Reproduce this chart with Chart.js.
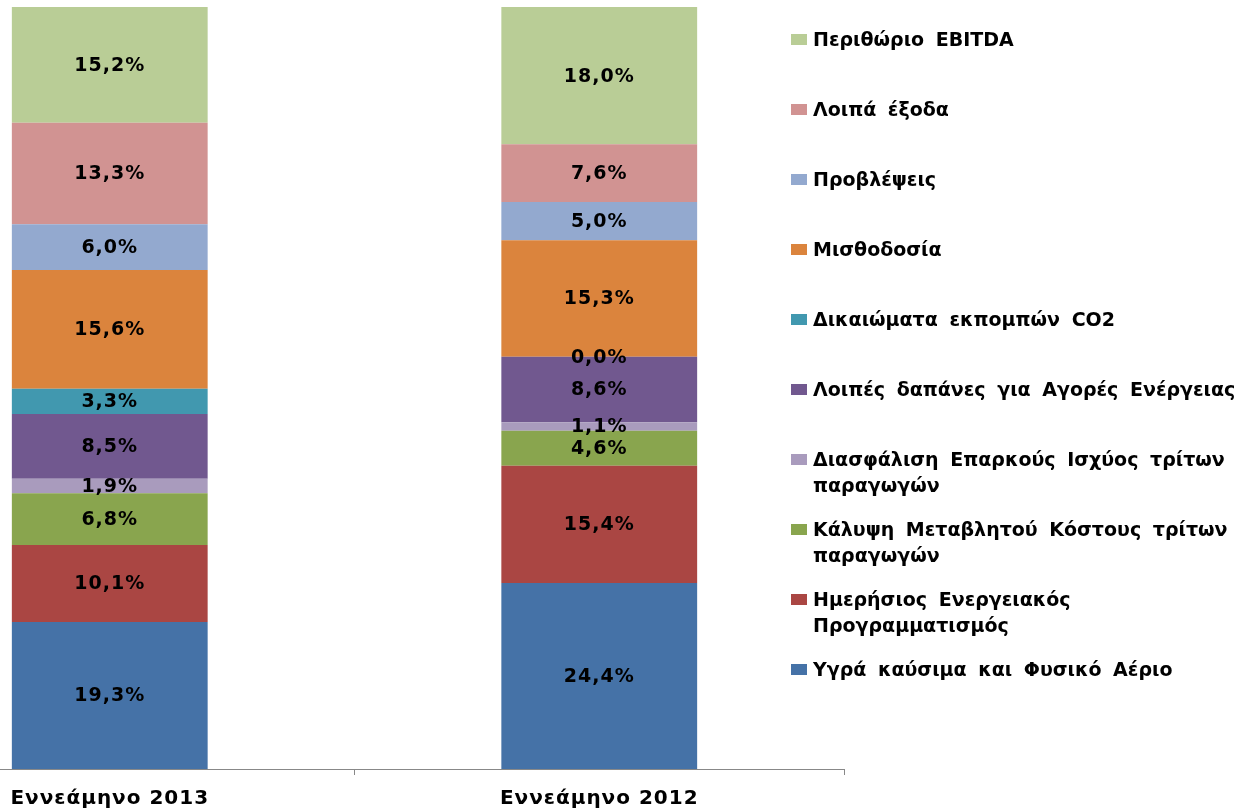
<!DOCTYPE html>
<html>
<head>
<meta charset="utf-8">
<script src="https://cdn.jsdelivr.net/npm/chart.js@4"></script>
<style>
  html, body { margin: 0; padding: 0; background: #fff; }
  #wrap { position: relative; width: 1238px; height: 809px; overflow: hidden; }
  #chartBox { position: absolute; left: -135px; top: 0; width: 981px; height: 809px; }
  #legend { position: absolute; left: 791px; top: 26px; width: 447px; font-family: "DejaVu Sans", Verdana, sans-serif; font-weight: bold; font-size: 19px; color: #000; }
  .item { position: relative; height: 70px; padding-left: 22px; line-height: 26px; word-spacing: 5px; }
  .item div { white-space: nowrap; }
  .sw { position: absolute; left: 0; top: 8px; width: 16px; height: 11px; }
</style>
</head>
<body>
<div id="wrap">
  <div id="chartBox"><canvas id="chart"></canvas></div>
  <div id="legend"></div>
</div>
<script>
// Catégories et séries (de bas en haut dans la pile)
const categories = ['Εννεάμηνο 2013', 'Εννεάμηνο 2012'];
const seriesNames = [
  ['Υγρά καύσιμα και Φυσικό Αέριο'],
  ['Ημερήσιος Ενεργειακός', 'Προγραμματισμός'],
  ['Κάλυψη Μεταβλητού Κόστους τρίτων', 'παραγωγών'],
  ['Διασφάλιση Επαρκούς Ισχύος τρίτων', 'παραγωγών'],
  ['Λοιπές δαπάνες για Αγορές Ενέργειας'],
  ['Δικαιώματα εκπομπών CO2'],
  ['Μισθοδοσία'],
  ['Προβλέψεις'],
  ['Λοιπά έξοδα'],
  ['Περιθώριο EBITDA']
];
const values2013 = [19.3, 10.1, 6.8, 1.9, 8.5, 3.3, 15.6, 6.0, 13.3, 15.2];
const values2012 = [24.4, 15.4, 4.6, 1.1, 8.6, 0.0, 15.3, 5.0, 7.6, 18.0];
const colors = ['#4572A7', '#AA4643', '#89A54E', '#A99BBD', '#71588F', '#4198AF', '#DB843D', '#93A9CF', '#D19392', '#B9CD96'];

//-------------------------------------Datasets-------------------------------------
const datasets = seriesNames.map((name, i) => ({
  label: name.join(' '),
  data: [values2013[i], values2012[i]],
  backgroundColor: colors[i],
  borderWidth: 0,
  barPercentage: 0.8,
  categoryPercentage: 0.5
}));

// Espacement des lettres pour tout le texte du canvas
const spacing = {
  id: 'spacing',
  beforeDraw(chart) { chart.ctx.letterSpacing = '1px'; }
};

// Étiquettes de valeurs au centre de chaque segment
const valueLabels = {
  id: 'valueLabels',
  afterDatasetsDraw(chart) {
    const ctx = chart.ctx;
    ctx.save();
    ctx.font = 'bold 19px "DejaVu Sans", Verdana, sans-serif';
    ctx.letterSpacing = '1px';
    ctx.fillStyle = '#000';
    ctx.textAlign = 'center';
    ctx.textBaseline = 'middle';
    chart.data.datasets.forEach((ds, i) => {
      chart.getDatasetMeta(i).data.forEach((el, j) => {
        const p = el.getProps(['x', 'y', 'base'], true);
        const txt = ds.data[j].toFixed(1).replace('.', ',') + '%';
        ctx.fillText(txt, p.x, (p.y + p.base) / 2 + 1);
      });
    });
    ctx.restore();
  }
};

new Chart(document.getElementById('chart').getContext('2d'), {
  type: 'bar',
  data: { labels: categories, datasets: datasets },
  options: {
    responsive: true,
    maintainAspectRatio: false,
    animation: false,
    layout: { padding: { top: 7, right: 2, left: 0, bottom: 0 } },
    plugins: { legend: { display: false }, tooltip: { enabled: false } },
    scales: {
      x: {
        stacked: true,
        afterFit: scale => { scale.height = 40; },
        border: { display: true, color: '#888', width: 1 },
        grid: { offset: true, drawOnChartArea: false, drawTicks: true, tickLength: 6, color: '#888' },
        ticks: { color: '#000', padding: 12, font: { family: '"DejaVu Sans", Verdana, sans-serif', size: 20, weight: 'bold' } }
      },
      y: { stacked: true, display: false, min: 0, max: 100 }
    }
  },
  plugins: [spacing, valueLabels]
});

// Légende HTML (ordre inverse de la pile)
const legend = document.getElementById('legend');
for (let i = seriesNames.length - 1; i >= 0; i--) {
  const item = document.createElement('div');
  item.className = 'item';
  const sw = document.createElement('span');
  sw.className = 'sw';
  sw.style.background = colors[i];
  item.appendChild(sw);
  seriesNames[i].forEach(line => {
    const d = document.createElement('div');
    d.textContent = line;
    item.appendChild(d);
  });
  legend.appendChild(item);
}
</script>
</body>
</html>
